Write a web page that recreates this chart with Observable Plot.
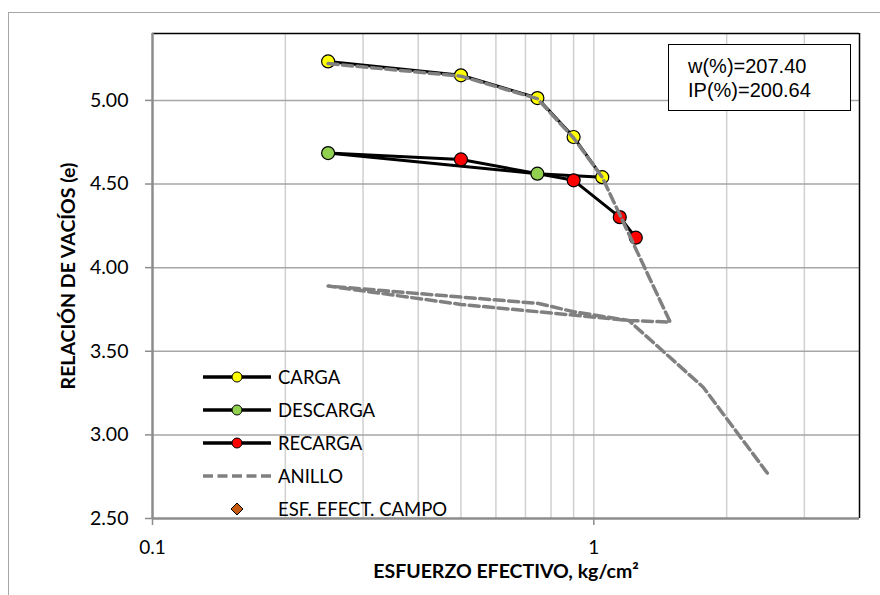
<!DOCTYPE html>
<html>
<head>
<meta charset="utf-8">
<script src="https://cdn.jsdelivr.net/npm/d3@7"></script>
<script src="https://cdn.jsdelivr.net/npm/@observablehq/plot@0.6"></script>
<style>
  body { margin: 0; background: #fff; }
  #wrap { position: relative; width: 880px; height: 595px; overflow: hidden; font-family: Lato, "Open Sans", sans-serif; }
  #outer { position: absolute; left: 8px; top: 12px; width: 1000px; height: 1000px; border-left: 1.5px solid #a6a6a6; border-top: 1.5px solid #a6a6a6; }
  #chart { position: absolute; left: 0; top: 0; }
  #legend { position: absolute; left: 200px; top: 360px; }
  .lg { position: absolute; left: 0; height: 33px; width: 300px; }
  .lg svg { position: absolute; left: 0; top: 0; }
  .lg span { position: absolute; left: 78px; top: 5px; font-size: 18.5px; line-height: 24px; color: #000; white-space: nowrap; }
  #box { position: absolute; left: 668px; top: 44px; width: 183px; height: 67px; border: 1.5px solid #000; background: #fff;
         font-family: "Liberation Sans", Arial, sans-serif; font-size: 20px; line-height: 24px; color: #000; box-sizing: border-box; padding: 9px 0 0 19px; }
</style>
</head>
<body>
<div id="wrap">
  <div id="outer"></div>
  <div id="chart"></div>
  <div id="legend"></div>
  <div id="box"></div>
</div>
<script>
// ---- data ----
const cargaX = [0.25, 0.5, 0.745, 0.9, 1.045];
const cargaE = [5.233, 5.150, 5.014, 4.781, 4.541];

const descargaX = [1.045, 0.745, 0.25];
const descargaE = [4.541, 4.562, 4.685];
const descargaMarked = [false, true, true];

const recargaX = [0.25, 0.5, 0.9, 1.145, 1.245];
const recargaE = [4.685, 4.647, 4.522, 4.302, 4.179];
const recargaMarked = [false, true, true, true, true];

const anilloX = [0.25, 0.5, 0.745, 0.9, 1.045, 1.49, 1.2, 0.75, 0.5, 0.25, 0.5, 0.75, 0.9, 1.2, 1.77, 2.48];
const anilloE = [5.22, 5.145, 5.01, 4.775, 4.54, 3.674, 3.684, 3.736, 3.78, 3.89, 3.824, 3.786, 3.736, 3.684, 3.285, 2.767];

const yTicks = [2.5, 3.0, 3.5, 4.0, 4.5, 5.0];
const xTicks = [0.1, 1];
const xTickLabels = ["0.1", "1"];
const xMinor = [0.2, 0.3, 0.4, 0.5, 0.6, 0.7, 0.8, 0.9, 1, 2, 3];

const legendNames = ["CARGA", "DESCARGA", "RECARGA", "ANILLO", "ESF. EFECT. CAMPO"];
const boxLines = ["w(%)=207.40", "IP(%)=200.64"];
const xLabel = "ESFUERZO EFECTIVO, kg/cm²";
const yLabel = "RELACIÓN DE VACÍOS (e)";

const colYellow = "#ffff00", colGreen = "#92d050", colRed = "#ff0000", colGrey = "#808080", colBrown = "#c55a11";

// ---- tables ----
const toRows = (xs, es, m) => xs.map((x, i) => ({x, e: es[i], m: m ? m[i] : true}));
const carga = toRows(cargaX, cargaE);
const descarga = toRows(descargaX, descargaE, descargaMarked);
const recarga = toRows(recargaX, recargaE, recargaMarked);
const anillo = toRows(anilloX, anilloE);

const xFmt = d => {
  const k = xTicks.findIndex(t => Math.abs(t - d) < 1e-9);
  return k >= 0 ? xTickLabels[k] : "";
};

const chart = Plot.plot({
  width: 880,
  height: 595,
  marginLeft: 152,
  marginRight: 21,
  marginTop: 33,
  marginBottom: 77,
  style: {fontFamily: "Lato, 'Open Sans', sans-serif", background: "transparent", color: "#000", overflow: "visible"},
  x: {type: "log", domain: [0.1, 4]},
  y: {domain: [2.5, 5.4]},
  marks: [
    Plot.ruleX(xMinor, {stroke: "#d0d0d0", strokeWidth: 1.5}),
    Plot.ruleY(yTicks.filter(d => d > 2.5), {stroke: "#a6a6a6", strokeWidth: 1.5}),
    Plot.ruleY([5.4], {stroke: "#000", strokeWidth: 1.5}),
    Plot.ruleX([4], {stroke: "#000", strokeWidth: 1.5}),
    Plot.axisY({ticks: yTicks, tickFormat: d3.format(".2f"), tickSize: 7, tickPadding: 17, fontSize: 19.5, stroke: "#8c8c8c", strokeWidth: 1.5, fill: "#000", label: null}),
    Plot.axisX({ticks: xTicks, tickFormat: xFmt, tickSize: 7, tickPadding: 15, fontSize: 19, stroke: "#8c8c8c", strokeWidth: 1.5, fill: "#000", label: null}),
    Plot.ruleX([0.1], {stroke: "#8c8c8c", strokeWidth: 2.5}),
    Plot.ruleY([2.5], {stroke: "#8c8c8c", strokeWidth: 2.5}),
    Plot.line(carga, {x: "x", y: "e", stroke: "#000", strokeWidth: 3}),
    Plot.line(descarga, {x: "x", y: "e", stroke: "#000", strokeWidth: 3}),
    Plot.line(recarga, {x: "x", y: "e", stroke: "#000", strokeWidth: 3}),
    Plot.dot(carga, {x: "x", y: "e", r: 6.5, fill: colYellow, stroke: "#000", strokeWidth: 1.2}),
    Plot.dot(descarga.filter(d => d.m), {x: "x", y: "e", r: 6.5, fill: colGreen, stroke: "#000", strokeWidth: 1.2}),
    Plot.dot(recarga.filter(d => d.m), {x: "x", y: "e", r: 6.5, fill: colRed, stroke: "#000", strokeWidth: 1.2}),
    Plot.line(anillo, {x: "x", y: "e", stroke: colGrey, strokeWidth: 3.5, strokeDasharray: "10,4.5", curve: "linear"}),
    Plot.text([yLabel], {frameAnchor: "left", textAnchor: "middle", dx: -84, rotate: -90, fontWeight: "bold", fontSize: 19.5, fill: "#000"}),
    Plot.text([xLabel], {frameAnchor: "bottom", textAnchor: "middle", dy: 59, fontWeight: "bold", fontSize: 19.5, fill: "#000"})
  ]
});
document.getElementById("chart").appendChild(chart);

// ---- legend ----
const legend = document.getElementById("legend");
const legendIcons = [
  `<line x1="3" y1="17" x2="71" y2="17" stroke="#000" stroke-width="3.5"/><circle cx="37" cy="17" r="5" fill="${colYellow}" stroke="#000" stroke-width="1"/>`,
  `<line x1="3" y1="17" x2="71" y2="17" stroke="#000" stroke-width="3.5"/><circle cx="37" cy="17" r="5" fill="${colGreen}" stroke="#000" stroke-width="1"/>`,
  `<line x1="3" y1="17" x2="71" y2="17" stroke="#000" stroke-width="3.5"/><circle cx="37" cy="17" r="5" fill="${colRed}" stroke="#000" stroke-width="1"/>`,
  `<line x1="3" y1="17" x2="71" y2="17" stroke="${colGrey}" stroke-width="3.5" stroke-dasharray="10,4.5"/>`,
  `<path d="M37 11 L43 17 L37 23 L31 17 Z" fill="${colBrown}" stroke="#000" stroke-width="1"/>`
];
legendNames.forEach((name, i) => {
  const row = document.createElement("div");
  row.className = "lg";
  row.style.top = (i * 33) + "px";
  row.innerHTML = `<svg width="76" height="33">${legendIcons[i]}</svg><span>${name}</span>`;
  legend.appendChild(row);
});

// ---- text box ----
document.getElementById("box").innerHTML = boxLines.map(t => `<div>${t}</div>`).join("");
</script>
</body>
</html>
